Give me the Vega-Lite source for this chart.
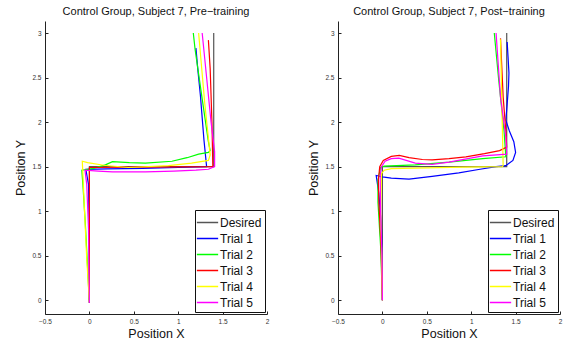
{
"$schema": "https://vega.github.io/schema/vega-lite/v6.json",
"padding": {"left": 14, "top": 6, "right": 5, "bottom": 2},
"datasets": {
"pre": [
{"s":"Desired","i":0,"x":0,"y":0},{"s":"Desired","i":1,"x":0,"y":1.5},{"s":"Desired","i":2,"x":1.4,"y":1.5},{"s":"Desired","i":3,"x":1.4,"y":3},
{"s":"Trial 1","i":0,"x":0,"y":-0.03},{"s":"Trial 1","i":1,"x":0,"y":0.8},{"s":"Trial 1","i":2,"x":-0.01,"y":1.3},{"s":"Trial 1","i":3,"x":-0.04,"y":1.47},{"s":"Trial 1","i":4,"x":0.2,"y":1.475},{"s":"Trial 1","i":5,"x":0.6,"y":1.48},{"s":"Trial 1","i":6,"x":1.0,"y":1.49},{"s":"Trial 1","i":7,"x":1.32,"y":1.5},{"s":"Trial 1","i":8,"x":1.29,"y":1.8},{"s":"Trial 1","i":9,"x":1.25,"y":2.3},{"s":"Trial 1","i":10,"x":1.22,"y":2.6},{"s":"Trial 1","i":11,"x":1.2,"y":2.83},
{"s":"Trial 2","i":0,"x":0,"y":-0.03},{"s":"Trial 2","i":1,"x":-0.045,"y":0.84},{"s":"Trial 2","i":2,"x":-0.07,"y":1.25},{"s":"Trial 2","i":3,"x":-0.085,"y":1.46},{"s":"Trial 2","i":4,"x":0.05,"y":1.48},{"s":"Trial 2","i":5,"x":0.18,"y":1.52},{"s":"Trial 2","i":6,"x":0.26,"y":1.555},{"s":"Trial 2","i":7,"x":0.45,"y":1.545},{"s":"Trial 2","i":8,"x":0.63,"y":1.54},{"s":"Trial 2","i":9,"x":0.93,"y":1.56},{"s":"Trial 2","i":10,"x":1.1,"y":1.6},{"s":"Trial 2","i":11,"x":1.23,"y":1.64},{"s":"Trial 2","i":12,"x":1.34,"y":1.66},{"s":"Trial 2","i":13,"x":1.36,"y":1.68},{"s":"Trial 2","i":14,"x":1.34,"y":1.78},{"s":"Trial 2","i":15,"x":1.27,"y":2.26},{"s":"Trial 2","i":16,"x":1.19,"y":2.82},{"s":"Trial 2","i":17,"x":1.17,"y":3.0},
{"s":"Trial 3","i":0,"x":0,"y":-0.03},{"s":"Trial 3","i":1,"x":0,"y":0.8},{"s":"Trial 3","i":2,"x":0,"y":1.49},{"s":"Trial 3","i":3,"x":0.5,"y":1.495},{"s":"Trial 3","i":4,"x":1.0,"y":1.497},{"s":"Trial 3","i":5,"x":1.39,"y":1.5},{"s":"Trial 3","i":6,"x":1.38,"y":2.0},{"s":"Trial 3","i":7,"x":1.36,"y":2.6},{"s":"Trial 3","i":8,"x":1.34,"y":2.92},
{"s":"Trial 4","i":0,"x":0,"y":-0.02},{"s":"Trial 4","i":1,"x":-0.03,"y":0.47},{"s":"Trial 4","i":2,"x":-0.055,"y":1.0},{"s":"Trial 4","i":3,"x":-0.08,"y":1.56},{"s":"Trial 4","i":4,"x":-0.02,"y":1.545},{"s":"Trial 4","i":5,"x":0.16,"y":1.515},{"s":"Trial 4","i":6,"x":0.44,"y":1.49},{"s":"Trial 4","i":7,"x":0.89,"y":1.51},{"s":"Trial 4","i":8,"x":1.15,"y":1.54},{"s":"Trial 4","i":9,"x":1.34,"y":1.57},{"s":"Trial 4","i":10,"x":1.36,"y":1.63},{"s":"Trial 4","i":11,"x":1.3,"y":2.2},{"s":"Trial 4","i":12,"x":1.23,"y":3.0},
{"s":"Trial 5","i":0,"x":0,"y":-0.03},{"s":"Trial 5","i":1,"x":-0.01,"y":0.8},{"s":"Trial 5","i":2,"x":-0.03,"y":1.3},{"s":"Trial 5","i":3,"x":-0.05,"y":1.46},{"s":"Trial 5","i":4,"x":0.1,"y":1.45},{"s":"Trial 5","i":5,"x":0.26,"y":1.44},{"s":"Trial 5","i":6,"x":0.63,"y":1.44},{"s":"Trial 5","i":7,"x":0.95,"y":1.45},{"s":"Trial 5","i":8,"x":1.2,"y":1.46},{"s":"Trial 5","i":9,"x":1.34,"y":1.47},{"s":"Trial 5","i":10,"x":1.41,"y":1.5},{"s":"Trial 5","i":11,"x":1.41,"y":1.67},{"s":"Trial 5","i":12,"x":1.37,"y":2.0},{"s":"Trial 5","i":13,"x":1.32,"y":2.5},{"s":"Trial 5","i":14,"x":1.27,"y":3.0}
],
"post": [
{"s":"Desired","i":0,"x":0,"y":0},{"s":"Desired","i":1,"x":0,"y":1.5},{"s":"Desired","i":2,"x":1.4,"y":1.5},{"s":"Desired","i":3,"x":1.4,"y":3},
{"s":"Trial 1","i":0,"x":0,"y":0},{"s":"Trial 1","i":1,"x":-0.01,"y":0.8},{"s":"Trial 1","i":2,"x":-0.04,"y":1.2},{"s":"Trial 1","i":3,"x":-0.07,"y":1.4},{"s":"Trial 1","i":4,"x":0,"y":1.385},{"s":"Trial 1","i":5,"x":0.1,"y":1.37},{"s":"Trial 1","i":6,"x":0.3,"y":1.36},{"s":"Trial 1","i":7,"x":0.56,"y":1.39},{"s":"Trial 1","i":8,"x":0.86,"y":1.43},{"s":"Trial 1","i":9,"x":1.1,"y":1.47},{"s":"Trial 1","i":10,"x":1.28,"y":1.5},{"s":"Trial 1","i":11,"x":1.39,"y":1.51},{"s":"Trial 1","i":12,"x":1.47,"y":1.57},{"s":"Trial 1","i":13,"x":1.5,"y":1.66},{"s":"Trial 1","i":14,"x":1.48,"y":1.78},{"s":"Trial 1","i":15,"x":1.43,"y":1.9},{"s":"Trial 1","i":16,"x":1.39,"y":2.02},{"s":"Trial 1","i":17,"x":1.405,"y":2.2},{"s":"Trial 1","i":18,"x":1.42,"y":2.4},{"s":"Trial 1","i":19,"x":1.425,"y":2.55},{"s":"Trial 1","i":20,"x":1.415,"y":2.73},{"s":"Trial 1","i":21,"x":1.405,"y":2.9},
{"s":"Trial 2","i":0,"x":0,"y":0},{"s":"Trial 2","i":1,"x":-0.02,"y":0.6},{"s":"Trial 2","i":2,"x":-0.05,"y":1.1},{"s":"Trial 2","i":3,"x":-0.05,"y":1.35},{"s":"Trial 2","i":4,"x":-0.02,"y":1.49},{"s":"Trial 2","i":5,"x":0.02,"y":1.505},{"s":"Trial 2","i":6,"x":0.37,"y":1.52},{"s":"Trial 2","i":7,"x":0.75,"y":1.55},{"s":"Trial 2","i":8,"x":1.13,"y":1.59},{"s":"Trial 2","i":9,"x":1.39,"y":1.61},{"s":"Trial 2","i":10,"x":1.37,"y":1.9},{"s":"Trial 2","i":11,"x":1.31,"y":2.47},{"s":"Trial 2","i":12,"x":1.26,"y":3.0},
{"s":"Trial 3","i":0,"x":0,"y":0},{"s":"Trial 3","i":1,"x":-0.015,"y":0.6},{"s":"Trial 3","i":2,"x":-0.04,"y":1.1},{"s":"Trial 3","i":3,"x":-0.045,"y":1.35},{"s":"Trial 3","i":4,"x":-0.03,"y":1.5},{"s":"Trial 3","i":5,"x":0.01,"y":1.57},{"s":"Trial 3","i":6,"x":0.1,"y":1.615},{"s":"Trial 3","i":7,"x":0.19,"y":1.625},{"s":"Trial 3","i":8,"x":0.3,"y":1.6},{"s":"Trial 3","i":9,"x":0.45,"y":1.58},{"s":"Trial 3","i":10,"x":0.56,"y":1.576},{"s":"Trial 3","i":11,"x":0.75,"y":1.59},{"s":"Trial 3","i":12,"x":0.94,"y":1.61},{"s":"Trial 3","i":13,"x":1.15,"y":1.645},{"s":"Trial 3","i":14,"x":1.32,"y":1.68},{"s":"Trial 3","i":15,"x":1.4,"y":1.72},{"s":"Trial 3","i":16,"x":1.39,"y":1.9},{"s":"Trial 3","i":17,"x":1.36,"y":2.28},{"s":"Trial 3","i":18,"x":1.33,"y":2.94},
{"s":"Trial 4","i":0,"x":0,"y":0},{"s":"Trial 4","i":1,"x":-0.01,"y":0.6},{"s":"Trial 4","i":2,"x":-0.02,"y":1.0},{"s":"Trial 4","i":3,"x":-0.01,"y":1.42},{"s":"Trial 4","i":4,"x":0.02,"y":1.46},{"s":"Trial 4","i":5,"x":0.1,"y":1.478},{"s":"Trial 4","i":6,"x":0.5,"y":1.485},{"s":"Trial 4","i":7,"x":0.9,"y":1.495},{"s":"Trial 4","i":8,"x":1.35,"y":1.5},{"s":"Trial 4","i":9,"x":1.36,"y":1.51},{"s":"Trial 4","i":10,"x":1.345,"y":2.2},{"s":"Trial 4","i":11,"x":1.33,"y":2.93},
{"s":"Trial 5","i":0,"x":0,"y":0},{"s":"Trial 5","i":1,"x":-0.005,"y":0.5},{"s":"Trial 5","i":2,"x":-0.02,"y":1.0},{"s":"Trial 5","i":3,"x":-0.025,"y":1.4},{"s":"Trial 5","i":4,"x":-0.01,"y":1.5},{"s":"Trial 5","i":5,"x":0.03,"y":1.56},{"s":"Trial 5","i":6,"x":0.1,"y":1.59},{"s":"Trial 5","i":7,"x":0.185,"y":1.595},{"s":"Trial 5","i":8,"x":0.37,"y":1.54},{"s":"Trial 5","i":9,"x":0.56,"y":1.525},{"s":"Trial 5","i":10,"x":0.75,"y":1.55},{"s":"Trial 5","i":11,"x":1.13,"y":1.62},{"s":"Trial 5","i":12,"x":1.4,"y":1.64},{"s":"Trial 5","i":13,"x":1.39,"y":1.83},{"s":"Trial 5","i":14,"x":1.33,"y":2.28},{"s":"Trial 5","i":15,"x":1.28,"y":3.0}
]
},
"hconcat": [
{
"title": "Control Group, Subject 7, Pre−training",
"width": 222, "height": 293,
"data": {"name": "pre"},
"mark": {"type": "line", "strokeWidth": 1.2},
"encoding": {
"x": {"field": "x", "type": "quantitative", "scale": {"domain": [-0.5, 2], "nice": false, "zero": false}, "axis": {"title": "Position X", "values": [-0.5, 0, 0.5, 1, 1.5, 2], "format": "~g"}},
"y": {"field": "y", "type": "quantitative", "scale": {"domain": [-0.155, 3.135], "nice": false, "zero": false}, "axis": {"title": "Position Y", "values": [0, 0.5, 1, 1.5, 2, 2.5, 3], "format": "~g"}},
"color": {"field": "s", "type": "nominal", "scale": {"domain": ["Desired", "Trial 1", "Trial 2", "Trial 3", "Trial 4", "Trial 5"], "range": ["#555555", "#0000ff", "#00ff00", "#ff0000", "#ffff00", "#ff00ff"]}, "legend": {"title": null, "rowPadding": 0, "symbolSize": 290, "symbolType": "M-1.25,0H1.25"}},
"order": {"field": "i", "type": "quantitative"}
}
},
{
"title": "Control Group, Subject 7, Post−training",
"width": 222, "height": 293,
"data": {"name": "post"},
"mark": {"type": "line", "strokeWidth": 1.2},
"encoding": {
"x": {"field": "x", "type": "quantitative", "scale": {"domain": [-0.5, 2], "nice": false, "zero": false}, "axis": {"title": "Position X", "values": [-0.5, 0, 0.5, 1, 1.5, 2], "format": "~g"}},
"y": {"field": "y", "type": "quantitative", "scale": {"domain": [-0.155, 3.135], "nice": false, "zero": false}, "axis": {"title": "Position Y", "values": [0, 0.5, 1, 1.5, 2, 2.5, 3], "format": "~g"}},
"color": {"field": "s", "type": "nominal", "scale": {"domain": ["Desired", "Trial 1", "Trial 2", "Trial 3", "Trial 4", "Trial 5"], "range": ["#555555", "#0000ff", "#00ff00", "#ff0000", "#ffff00", "#ff00ff"]}, "legend": {"title": null, "rowPadding": 0, "symbolSize": 290, "symbolType": "M-1.25,0H1.25"}},
"order": {"field": "i", "type": "quantitative"}
}
}
],
"spacing": 71,
"bounds": "flush",
"resolve": {"scale": {"color": "independent"}, "legend": {"color": "independent"}},
"config": {
"font": "Liberation Sans",
"view": {"stroke": null},
"title": {"fontSize": 11, "fontWeight": "normal", "color": "#111", "anchor": "middle", "offset": 4},
"axis": {"grid": false, "domainColor": "#222", "tickColor": "#222", "tickSize": -3, "labelFontSize": 6.5, "labelColor": "#333", "labelPadding": 7, "titleFontSize": 12.5, "titleFontWeight": "normal", "titleColor": "#111", "labelFlush": false},
"axisY": {"titlePadding": 4},
"axisX": {"titlePadding": 3},
"legend": {"orient": "bottom-right", "offset": 2, "strokeColor": "#111", "strokeWidth": 1, "fillColor": "white", "padding": 3, "symbolStrokeWidth": 1.5, "labelFontSize": 12, "labelColor": "#111", "labelOffset": 3}
}
}
